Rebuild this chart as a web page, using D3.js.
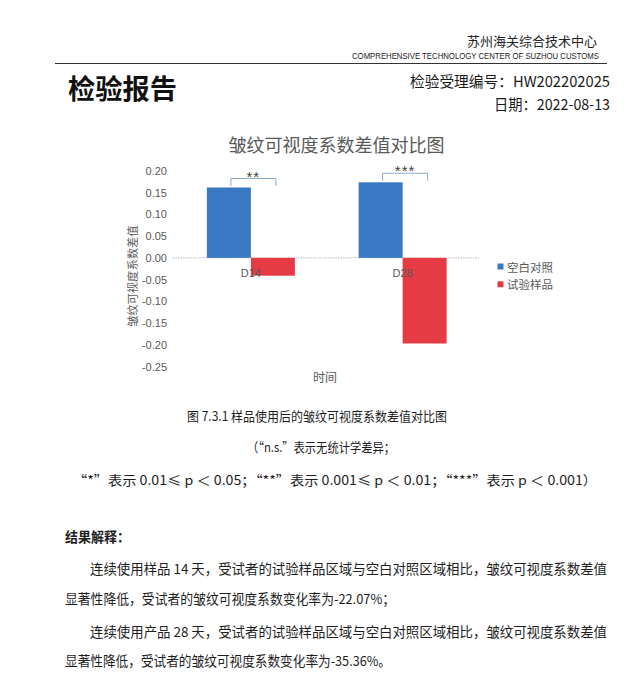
<!DOCTYPE html>
<html>
<head>
<meta charset="utf-8">
<script src="https://cdn.jsdelivr.net/npm/d3@7/dist/d3.min.js"></script>
<style>
  html, body { margin: 0; padding: 0; background: #ffffff; }
  svg { display: block; }
</style>
</head>
<body>
<svg id="page" width="626" height="680"></svg>
<script>
// ---------- data ----------
const categories = ["D14", "D28"];
const seriesNames = ["空白对照", "试验样品"];
const blankValues = [0.162, 0.174];
const testValues = [-0.041, -0.197];
const significance = ["**", "***"];
const yTicks = [0.20, 0.15, 0.10, 0.05, 0.00, -0.05, -0.10, -0.15, -0.20, -0.25];
const seriesColors = ["#3b78c4", "#e63a44"];

const chartTitle = "皱纹可视度系数差值对比图";
const yAxisTitle = "皱纹可视度系数差值";
const xAxisTitle = "时间";

// ---------- page ----------
const svg = d3.select("#page");
const CJK = "'Noto Sans CJK SC', 'Noto Sans', sans-serif";
const LAT = "'Liberation Sans', Arial, sans-serif";

function txt(s, x, y, size, opts = {}) {
  const t = svg.append("text")
    .attr("x", x).attr("y", y)
    .attr("font-family", opts.family || CJK)
    .attr("font-size", size)
    .attr("fill", opts.fill || "#1e1e1e")
    .attr("text-anchor", opts.anchor || "start")
    .text(s);
  if (opts.weight) t.attr("font-weight", opts.weight);
  if (opts.ls) t.attr("letter-spacing", opts.ls);
  if (opts.len) t.attr("textLength", opts.len).attr("lengthAdjust", "spacingAndGlyphs");
  return t;
}

// header
txt("苏州海关综合技术中心", 597, 46, 13, { anchor: "end", fill: "#222" });
txt("COMPREHENSIVE TECHNOLOGY CENTER OF SUZHOU CUSTOMS", 352, 58.5, 8.5, { fill: "#222", len: 247, family: LAT });
svg.append("line").attr("x1", 55).attr("x2", 607).attr("y1", 63.5).attr("y2", 63.5)
  .attr("stroke", "#333").attr("stroke-width", 1.2);
txt("检验报告", 68, 99, 27, { weight: "bold", fill: "#111", len: 109 });
txt("检验受理编号：HW202202025", 410, 87, 15, { fill: "#1a1a1a", len: 200 });
txt("日期：2022-08-13", 494, 109.5, 15, { fill: "#1a1a1a", len: 116 });

// ---------- chart ----------
const y = d3.scaleLinear().domain([-0.25, 0.20]).range([366.5, 171]);
const x = d3.scaleBand().domain(categories).range([175, 478.5]).paddingInner(0.42).paddingOuter(0.21);
const xs = d3.scaleBand().domain(seriesNames).range([0, x.bandwidth()]);
const grey = "#595959";

const fmt = d3.formatLocale({ decimal: ".", thousands: ",", grouping: [3], currency: ["", ""], minus: "-" }).format(".2f");

// title
txt(chartTitle, 336.5, 151.5, 18, { anchor: "middle", fill: grey });

// y axis
const yAxisG = svg.append("g").attr("transform", "translate(175,0)")
  .call(d3.axisLeft(y).tickValues(yTicks).tickFormat(fmt).tickSize(0).tickPadding(8));
yAxisG.select(".domain").remove();
yAxisG.selectAll("text").attr("font-family", LAT).attr("font-size", 11).attr("fill", grey);

// zero line
svg.append("line").attr("x1", 173).attr("x2", 479).attr("y1", y(0)).attr("y2", y(0))
  .attr("stroke", "#b8b8b8").attr("stroke-width", 1).attr("stroke-dasharray", "1.5,1");

// bars
const rows = categories.map((c, i) => ({ cat: c, vals: [blankValues[i], testValues[i]] }));
const groups = svg.append("g").selectAll("g").data(rows).join("g")
  .attr("transform", d => `translate(${x(d.cat)},0)`);
groups.selectAll("rect").data(d => d.vals.map((v, j) => ({ v, s: seriesNames[j], j })))
  .join("rect")
  .attr("x", d => xs(d.s))
  .attr("width", xs.bandwidth())
  .attr("y", d => y(Math.max(0, d.v)))
  .attr("height", d => Math.abs(y(d.v) - y(0)))
  .attr("fill", d => seriesColors[d.j]);

// x axis labels
const xAxisG = svg.append("g").attr("transform", `translate(0,${y(0)})`)
  .call(d3.axisBottom(x).tickSize(0));
xAxisG.select(".domain").remove();
xAxisG.selectAll("text").attr("y", 11.5).attr("dy", "0.71em")
  .attr("font-family", LAT).attr("font-size", 11).attr("fill", grey);

// significance brackets
rows.forEach((d, i) => {
  const x1 = x(d.cat) + xs(seriesNames[0]) + xs.bandwidth() / 2 + 2;
  const x2 = x(d.cat) + xs(seriesNames[1]) + xs.bandwidth() / 2 + 3;
  const top = y(d.vals[0]) - 9;
  const bot = y(d.vals[0]) - 1.5;
  svg.append("path")
    .attr("d", `M${x1},${bot}V${top}H${x2}V${bot}`)
    .attr("fill", "none").attr("stroke", "#8eaacc").attr("stroke-width", 1);
  txt(significance[i], (x1 + x2) / 2, top + 3, 15, { anchor: "middle", fill: "#404040", family: LAT, ls: 1 });
});

// axis titles
svg.append("text")
  .attr("transform", "translate(132,276) rotate(-90)")
  .attr("text-anchor", "middle").attr("dominant-baseline", "central")
  .attr("font-family", CJK).attr("font-size", 11).attr("letter-spacing", 0.3).attr("fill", grey)
  .text(yAxisTitle);
txt(xAxisTitle, 325, 381.5, 12, { anchor: "middle", fill: grey });

// legend
seriesNames.forEach((s, i) => {
  const cy = 266.5 + i * 17.8;
  svg.append("rect").attr("x", 497.5).attr("y", cy - 3).attr("width", 6).attr("height", 6)
    .attr("fill", seriesColors[i]);
  svg.append("text").attr("x", 507).attr("y", cy).attr("dominant-baseline", "central")
    .attr("font-family", CJK).attr("font-size", 11.5).attr("fill", grey).text(s);
});

// ---------- captions & body ----------
txt("图 7.3.1 样品使用后的皱纹可视度系数差值对比图", 187, 421, 13, { len: 260 });
txt("（“n.s.”表示无统计学差异；", 247, 452, 13, { len: 148 });
txt("“*”表示 0.01≤ p ＜ 0.05；“**”表示 0.001≤ p ＜ 0.01；“***”表示 p ＜ 0.001）", 73, 485, 13, { len: 524 });

txt("结果解释：", 65, 542, 13.5, { weight: "bold", len: 65 });
txt("连续使用样品 14 天，受试者的试验样品区域与空白对照区域相比，皱纹可视度系数差值", 90, 574, 13.5, { len: 517 });
txt("显著性降低，受试者的皱纹可视度系数变化率为-22.07%；", 65, 604, 13.5, { len: 330 });
txt("连续使用产品 28 天，受试者的试验样品区域与空白对照区域相比，皱纹可视度系数差值", 90, 637, 13.5, { len: 517 });
txt("显著性降低，受试者的皱纹可视度系数变化率为-35.36%。", 65, 666, 13.5, { len: 326 });
</script>
</body>
</html>
